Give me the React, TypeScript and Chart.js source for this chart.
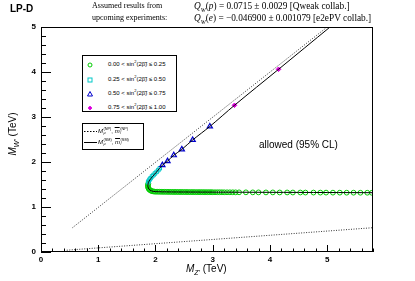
import React, { useEffect, useRef } from 'react';
import { Chart, registerables } from 'chart.js';

Chart.register(...registerables);

// ---- axis ranges and tick labels ----
const X_MIN = 0;
const X_MAX = 5.8;
const Y_MIN = 0;
const Y_MAX = 5;
const xTickValues = [0, 1, 2, 3, 4, 5];
const yTickValues = [0, 1, 2, 3, 4, 5];

// ---- SM curve (solid) ----
const smX = [5.8, 5.0, 4.0, 3.0, 2.5, 2.2, 2.05, 1.96, 1.905, 1.875, 1.868, 1.875, 1.9, 1.95, 2.02, 2.12, 2.21, 2.32, 2.46, 2.65, 2.95, 3.38, 4.15, 5.05];
const smY = [1.318, 1.322, 1.326, 1.33, 1.333, 1.336, 1.34, 1.347, 1.375, 1.42, 1.48, 1.54, 1.6, 1.68, 1.78, 1.93, 2.02, 2.15, 2.28, 2.49, 2.79, 3.26, 4.06, 5.0];

// ---- NP boundaries (dotted) ----
const npUpperX = [0.55, 5.0];
const npUpperY = [0.54, 5.0];
const npLowerX = [0.45, 5.8];
const npLowerY = [0.04, 0.54];

// ---- scan points by sin^2(2 beta) range ----
const greenX = [1.875, 1.868, 1.868, 1.872, 1.88, 1.89, 1.905, 1.92, 1.94, 1.96, 1.985,
  2.01, 2.04, 2.07, 2.1, 2.13, 2.16, 2.19, 2.22, 2.25, 2.28, 2.31, 2.34, 2.37, 2.4, 2.43, 2.46, 2.49, 2.52, 2.55, 2.58,
  2.61, 2.64, 2.67, 2.7, 2.73, 2.76, 2.79, 2.82, 2.85, 2.88, 2.91, 2.94, 2.97, 3.0, 3.04, 3.08, 3.12, 3.16, 3.2, 3.25,
  3.3, 3.35, 3.4, 3.46, 3.58, 3.7, 3.8, 3.93, 4.05, 4.17, 4.3, 4.4, 4.53, 4.62, 4.76, 4.88, 4.98, 5.1, 5.22, 5.34,
  5.46, 5.58, 5.7, 5.78];
const greenY = [1.52, 1.49, 1.46, 1.435, 1.41, 1.39, 1.375, 1.362, 1.352, 1.346, 1.342,
  1.34, 1.339, 1.338, 1.338, 1.337, 1.337, 1.336, 1.336, 1.335, 1.335, 1.334, 1.334, 1.334, 1.333, 1.333, 1.333, 1.332, 1.332, 1.332, 1.331,
  1.331, 1.331, 1.331, 1.33, 1.33, 1.33, 1.33, 1.33, 1.329, 1.329, 1.329, 1.329, 1.329, 1.328, 1.328, 1.328, 1.328, 1.328, 1.327, 1.327,
  1.327, 1.327, 1.326, 1.326, 1.326, 1.325, 1.325, 1.324, 1.324, 1.323, 1.323, 1.322, 1.322, 1.321, 1.321, 1.32, 1.32, 1.319, 1.319, 1.318,
  1.318, 1.317, 1.317, 1.316];
const cyanX = [1.872, 1.882, 1.897, 1.915, 1.94, 1.965, 1.99, 2.02, 2.05, 2.075];
const cyanY = [1.55, 1.58, 1.61, 1.64, 1.68, 1.71, 1.745, 1.78, 1.82, 1.86];
const blueX = [2.12, 2.21, 2.32, 2.46, 2.65, 2.95];
const blueY = [1.93, 2.02, 2.15, 2.28, 2.49, 2.79];
const magentaX = [3.38, 4.15];
const magentaY = [3.26, 4.06];

const pts = (xs: number[], ys: number[]) => xs.map((x, i) => ({ x, y: ys[i] }));

const GREEN = '#00cc00';
const CYAN = '#00c8c8';
const BLUE = '#0000cc';
const MAGENTA = '#dd00dd';

const frameTicks = {
  id: 'frameTicks',
  afterDatasetsDraw(chart: any) {
    const { ctx, chartArea: a, scales } = chart;
    const xs = scales.x;
    const ys = scales.y;
    ctx.save();
    ctx.strokeStyle = '#000';
    ctx.lineWidth = 1;
    ctx.strokeRect(Math.round(a.left) + 0.5, Math.round(a.top) + 0.5, Math.round(a.right - a.left) - 1, Math.round(a.bottom - a.top) - 1);
    ctx.beginPath();
    for (let i = 0; i <= 29; i++) {
      const px = Math.round(xs.getPixelForValue(i / 5)) + 0.5;
      const len = i % 5 === 0 ? 7 : 3.5;
      ctx.moveTo(px, a.bottom);
      ctx.lineTo(px, a.bottom - len);
    }
    for (let j = 0; j <= 25; j++) {
      const py = Math.round(ys.getPixelForValue(j / 5)) + 0.5;
      const len = j % 5 === 0 ? 10 : 5;
      ctx.moveTo(a.left, py);
      ctx.lineTo(a.left + len, py);
    }
    ctx.stroke();
    ctx.restore();
  },
};

const legendText: React.CSSProperties = {
  fontFamily: '"Liberation Sans", Arial, sans-serif',
  fontSize: 6,
  color: '#000',
  whiteSpace: 'nowrap',
  lineHeight: '7px',
};

function SinLabel({ lo, hi }: { lo: string; hi: string }) {
  return (
    <span>
      {lo} &lt; sin<sup style={{ fontSize: 4, lineHeight: 0 }}>2</sup>(2β̃) ≤ {hi}
    </span>
  );
}

function MLabel({ tag }: { tag: string }) {
  return (
    <span style={{ display: 'inline-flex', alignItems: 'center' }}>
      <i>M</i>
      <span style={{ display: 'inline-flex', flexDirection: 'column', fontSize: 3.8, lineHeight: '4px', marginLeft: 0.5 }}>
        <span>({tag})</span>
        <span><i>μ</i></span>
      </span>
      <span>,&nbsp;</span>
      <span style={{ textDecoration: 'overline' }}><i>m</i></span>
      <span style={{ display: 'inline-flex', flexDirection: 'column', fontSize: 3.8, lineHeight: '4px', marginLeft: 0.5 }}>
        <span>({tag})</span>
        <span><i>l</i></span>
      </span>
    </span>
  );
}

export default function App() {
  const canvasRef = useRef<HTMLCanvasElement | null>(null);

  useEffect(() => {
    document.body.style.margin = '0';
    const canvas = canvasRef.current;
    if (!canvas) return;
    const tickFont = { family: '"Liberation Sans", Arial, sans-serif', size: 8, weight: 'bold' as const };
    const chart = new Chart(canvas, {
      type: 'scatter',
      data: {
        datasets: [
          {
            label: 'SM',
            data: pts(smX, smY),
            showLine: true,
            borderColor: '#000',
            borderWidth: 1,
            pointRadius: 0,
            fill: false,
            tension: 0.3,
          },
          {
            label: 'NP upper',
            data: pts(npUpperX, npUpperY),
            showLine: true,
            borderColor: '#333',
            borderWidth: 1,
            borderDash: [1, 1.5],
            pointRadius: 0,
          },
          {
            label: 'NP lower',
            data: pts(npLowerX, npLowerY),
            showLine: true,
            borderColor: '#333',
            borderWidth: 1,
            borderDash: [1, 1.5],
            pointRadius: 0,
          },
          {
            label: 'magenta',
            data: pts(magentaX, magentaY),
            pointStyle: 'rectRot',
            pointRadius: 2.3,
            backgroundColor: MAGENTA,
            borderColor: MAGENTA,
            borderWidth: 1,
          },
          {
            label: 'blue',
            data: pts(blueX, blueY),
            pointStyle: 'triangle',
            pointRadius: 3,
            backgroundColor: 'rgba(0,0,0,0)',
            borderColor: BLUE,
            borderWidth: 1.2,
          },
          {
            label: 'cyan',
            data: pts(cyanX, cyanY),
            pointStyle: 'rect',
            pointRadius: 2.5,
            backgroundColor: 'rgba(0,0,0,0)',
            borderColor: CYAN,
            borderWidth: 1,
          },
          {
            label: 'green',
            data: pts(greenX, greenY),
            pointStyle: 'circle',
            pointRadius: 2.4,
            backgroundColor: 'rgba(0,0,0,0)',
            borderColor: GREEN,
            borderWidth: 1,
          },
        ],
      },
      options: {
        animation: false,
        responsive: false,
        devicePixelRatio: 1,
        layout: { padding: { left: 0, right: 42, top: 27, bottom: 0 } },
        plugins: { legend: { display: false }, tooltip: { enabled: false } },
        scales: {
          x: {
            type: 'linear',
            min: X_MIN,
            max: X_MAX,
            grid: { display: false, drawTicks: false },
            border: { display: false },
            afterBuildTicks: (s: any) => {
              s.ticks = xTickValues.map((v) => ({ value: v }));
            },
            afterFit: (s: any) => {
              s.height = 29;
            },
            ticks: { font: tickFont, color: '#000', padding: 3, maxRotation: 0, autoSkip: false },
          },
          y: {
            type: 'linear',
            min: Y_MIN,
            max: Y_MAX,
            grid: { display: false, drawTicks: false },
            border: { display: false },
            afterBuildTicks: (s: any) => {
              s.ticks = yTickValues.map((v) => ({ value: v }));
            },
            afterFit: (s: any) => {
              s.width = 41;
            },
            ticks: { font: tickFont, color: '#000', padding: 5, autoSkip: false },
          },
        },
      },
      plugins: [frameTicks],
    } as any);
    return () => chart.destroy();
  }, []);

  const serif: React.CSSProperties = {
    fontFamily: '"Liberation Serif", "Times New Roman", serif',
    fontSize: 8,
    color: '#000',
    whiteSpace: 'nowrap',
    position: 'absolute',
    lineHeight: '10px',
  };
  const formula: React.CSSProperties = { ...serif, fontSize: 9.3 };
  const sans = '"Liberation Sans", Arial, sans-serif';

  const markerSvg = (kind: string) => (
    <svg width="8" height="8" style={{ position: 'absolute', left: 3, top: 0 }}>
      {kind === 'circle' && <circle cx="4" cy="4" r="2" fill="none" stroke={GREEN} strokeWidth="1" />}
      {kind === 'rect' && <rect x="2" y="2" width="4" height="4" fill="none" stroke={CYAN} strokeWidth="1" />}
      {kind === 'tri' && <polygon points="4,1.5 6.5,6 1.5,6" fill="none" stroke={BLUE} strokeWidth="1" />}
      {kind === 'dia' && <polygon points="4,2 6,4 4,6 2,4" fill={MAGENTA} stroke={MAGENTA} strokeWidth="0.8" />}
    </svg>
  );

  const rows = [
    { kind: 'circle', lo: '0.00', hi: '0.25', top: 5 },
    { kind: 'rect', lo: '0.25', hi: '0.50', top: 20 },
    { kind: 'tri', lo: '0.50', hi: '0.75', top: 34 },
    { kind: 'dia', lo: '0.75', hi: '1.00', top: 48 },
  ];

  return (
    <div style={{ position: 'fixed', left: 0, top: 0, width: 415, height: 281, background: '#fff', overflow: 'hidden' }}>
      <canvas ref={canvasRef} width={415} height={281} style={{ position: 'absolute', left: 0, top: 0, width: 415, height: 281 }} />

      <div style={{ position: 'absolute', left: 10, top: 3, fontFamily: sans, fontWeight: 'bold', fontSize: 10, lineHeight: '12px' }}>LP-D</div>

      <div style={{ ...serif, left: 92, top: 1 }}>Assumed results from</div>
      <div style={{ ...serif, left: 92, top: 13 }}>upcoming experiments:</div>
      <div style={{ ...formula, left: 194, top: 1 }}>
        <i>Q</i><sub style={{ fontSize: 6, lineHeight: 0 }}><i>W</i></sub>(<i>p</i>) = 0.0715 ± 0.0029 [Qweak collab.]
      </div>
      <div style={{ ...formula, left: 194, top: 13 }}>
        <i>Q</i><sub style={{ fontSize: 6, lineHeight: 0 }}><i>W</i></sub>(<i>e</i>) = −0.046900 ± 0.001079 [e2ePV collab.]
      </div>

      {/* legend 1 */}
      <div style={{ position: 'absolute', left: 82, top: 55, width: 95, height: 57, border: '1px solid #000', background: '#fff', boxSizing: 'border-box' }}>
        {rows.map((r) => (
          <div key={r.lo} style={{ position: 'absolute', left: 0, top: r.top, width: 93, height: 8 }}>
            {markerSvg(r.kind)}
            <div style={{ ...legendText, position: 'absolute', left: 25, top: 0 }}>
              <SinLabel lo={r.lo} hi={r.hi} />
            </div>
          </div>
        ))}
      </div>

      {/* legend 2 */}
      <div style={{ position: 'absolute', left: 82, top: 123, width: 62, height: 27, border: '1px solid #000', background: '#fff', boxSizing: 'border-box' }}>
        <svg width="14" height="24" style={{ position: 'absolute', left: 1, top: 0 }}>
          <line x1="0" y1="7.5" x2="13" y2="7.5" stroke="#000" strokeWidth="1" strokeDasharray="1.5,1.5" />
          <line x1="0" y1="18.5" x2="13" y2="18.5" stroke="#000" strokeWidth="1" />
        </svg>
        <div style={{ ...legendText, position: 'absolute', left: 15, top: 3 }}>
          <MLabel tag="NP" />
        </div>
        <div style={{ ...legendText, position: 'absolute', left: 15, top: 14 }}>
          <MLabel tag="SM" />
        </div>
      </div>

      <div style={{ position: 'absolute', left: 259, top: 139, fontFamily: sans, fontSize: 10, lineHeight: '12px', whiteSpace: 'nowrap' }}>allowed (95% CL)</div>

      {/* x axis title */}
      <div style={{ position: 'absolute', left: 186, top: 263, fontFamily: sans, fontSize: 10, lineHeight: '12px', whiteSpace: 'nowrap' }}>
        <i>M</i><sub style={{ fontSize: 7, lineHeight: 0 }}><i>Z'</i></sub> (TeV)
      </div>

      {/* y axis title */}
      <div style={{ position: 'absolute', left: 13, top: 134, width: 0, height: 0 }}>
        <div style={{ position: 'absolute', left: 0, top: 0, transform: 'translate(-50%, -50%) rotate(-90deg)', fontFamily: sans, fontSize: 10, lineHeight: '12px', whiteSpace: 'nowrap' }}>
          <i>M</i><sub style={{ fontSize: 7, lineHeight: 0 }}><i>W'</i></sub> (TeV)
        </div>
      </div>
    </div>
  );
}
